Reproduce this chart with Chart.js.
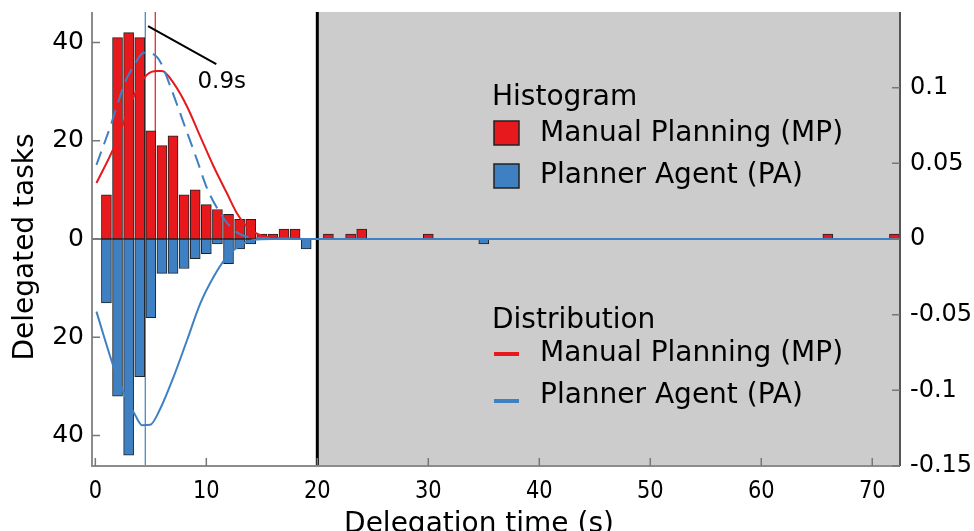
<!DOCTYPE html>
<html>
<head>
<meta charset="utf-8">
<script src="https://cdn.jsdelivr.net/npm/chart.js@4.4.0/dist/chart.umd.min.js"></script>
<style>
  html, body { margin: 0; padding: 0; background: #fff; }
  #wrap { width: 974px; height: 531px; position: relative; }
</style>
</head>
<body>
<div id="wrap"><canvas id="chart"></canvas></div>
<script>
// histogram bins (bin centre, seconds) and counts
const mpBins = [1, 2, 3, 4, 5, 6, 7, 8, 9, 10, 11, 12, 13, 14, 15, 16, 17, 18, 21, 23, 24, 30, 66, 72];
const mpCounts = [9, 41, 42, 41, 22, 19, 21, 9, 10, 7, 6, 5, 4, 4, 1, 1, 2, 2, 1, 1, 2, 1, 1, 1];
const paBins = [1, 2, 3, 4, 5, 6, 7, 8, 9, 10, 11, 12, 13, 14, 19, 35];
const paCounts = [13, 32, 44, 28, 16, 7, 7, 6, 4, 3, 1, 5, 2, 1, 2, 1];

// fitted distributions (right axis)
const mpDistX = [0.1, 1.65, 3.6, 4.66, 5.56, 6.0, 7.05, 8.26, 9.46, 10.66, 11.86, 12.76, 13.67, 14.86, 16.4, 20, 72.5];
const mpDistY = [0.037, 0.060, 0.0965, 0.1086, 0.111, 0.111, 0.103, 0.0876, 0.0677, 0.0479, 0.0302, 0.017, 0.0081, 0.0026, 0.0005, 0, 0];
const paMirrorX = [0.1, 1.35, 2.7, 3.6, 4.35, 5.25, 5.86, 6.76, 7.96, 9.16, 10.06, 11.26, 12.46, 13.96, 20];
const paMirrorY = [0.049, 0.0743, 0.104, 0.116, 0.123, 0.122, 0.117, 0.1008, 0.0766, 0.0523, 0.0336, 0.017, 0.006, 0.0011, 0];
const paDistX = [0.1, 1.65, 2.7, 3.6, 4.2, 4.95, 5.86, 7.05, 8.26, 9.46, 10.66, 11.86, 13.06, 14.26, 16, 72.5];
const paDistY = [-0.048, -0.0845, -0.104, -0.1165, -0.123, -0.1227, -0.112, -0.0911, -0.0669, -0.0426, -0.025, -0.0117, -0.004, -0.0007, 0, 0];

// medians and shaded region start
const paMedian = 4.5;
const mpMedian = 5.4;
const shadeStart = 20;

// ticks
const xTicks = [0, 10, 20, 30, 40, 50, 60, 70];
const yTicks = [-40, -20, 0, 20, 40];
const y2Ticks = [-0.15, -0.1, -0.05, 0, 0.05, 0.1];

const RED = '#e8191c';
const BLUE = '#3f80c2';
const FONT = '"DejaVu Sans", sans-serif';

const toXY = (xs, ys) => xs.map((x, i) => ({ x, y: ys[i] }));

const decorations = {
  id: 'decorations',
  beforeDatasetsDraw(chart) {
    const { ctx, chartArea: a, scales } = chart;
    const xs = scales.x, ys = scales.y;
    const y0 = ys.getPixelForValue(0);
    ctx.save();
    // shaded region
    const sx = xs.getPixelForValue(shadeStart);
    ctx.fillStyle = '#cccccc';
    ctx.fillRect(sx, a.top, a.right - sx, a.bottom - a.top);
    // zero line
    ctx.strokeStyle = '#000';
    ctx.lineWidth = 1;
    ctx.beginPath();
    ctx.moveTo(a.left, y0);
    ctx.lineTo(a.right, y0);
    ctx.stroke();
    // median lines
    const bx = xs.getPixelForValue(paMedian);
    ctx.strokeStyle = BLUE;
    ctx.lineWidth = 1.2;
    ctx.beginPath();
    ctx.moveTo(bx, a.top);
    ctx.lineTo(bx, a.bottom);
    ctx.stroke();
    const rx = xs.getPixelForValue(mpMedian);
    ctx.strokeStyle = RED;
    ctx.beginPath();
    ctx.moveTo(rx, a.top);
    ctx.lineTo(rx, y0);
    ctx.stroke();
    // boundary at 20 s
    ctx.strokeStyle = '#000';
    ctx.lineWidth = 3;
    ctx.beginPath();
    ctx.moveTo(sx, a.top);
    ctx.lineTo(sx, a.bottom);
    ctx.stroke();
    ctx.restore();
  },
  afterDatasetsDraw(chart) {
    const { ctx, chartArea: a, scales } = chart;
    const xs = scales.x, ys = scales.y, y2 = scales.y2;
    ctx.save();
    // spines
    ctx.lineWidth = 2;
    ctx.strokeStyle = '#8c8c8c';
    ctx.beginPath();
    ctx.moveTo(a.left, a.top);
    ctx.lineTo(a.left, a.bottom);
    ctx.lineTo(a.right, a.bottom);
    ctx.stroke();
    ctx.strokeStyle = '#555';
    ctx.beginPath();
    ctx.moveTo(a.right, a.top);
    ctx.lineTo(a.right, a.bottom);
    ctx.stroke();
    // inward tick marks
    ctx.lineWidth = 1.5;
    ctx.strokeStyle = '#777';
    ctx.beginPath();
    yTicks.forEach(v => {
      const p = ys.getPixelForValue(v);
      ctx.moveTo(a.left, p); ctx.lineTo(a.left + 8, p);
    });
    y2Ticks.forEach(v => {
      const p = y2.getPixelForValue(v);
      ctx.moveTo(a.right, p); ctx.lineTo(a.right - 8, p);
    });
    xTicks.forEach(v => {
      const p = xs.getPixelForValue(v);
      ctx.moveTo(p, a.bottom); ctx.lineTo(p, a.bottom - 8);
    });
    ctx.stroke();

    // x tick labels (narrow face, as in the source figure)
    ctx.fillStyle = '#000';
    ctx.font = '25px ' + FONT;
    ctx.textAlign = 'center';
    ctx.textBaseline = 'alphabetic';
    xTicks.forEach(v => {
      ctx.save();
      ctx.translate(xs.getPixelForValue(v), a.bottom + 32);
      ctx.scale(0.84, 1);
      ctx.fillText(String(v), 0, 0);
      ctx.restore();
    });

    // median gap annotation
    ctx.strokeStyle = '#000';
    ctx.lineWidth = 2;
    ctx.beginPath();
    ctx.moveTo(xs.getPixelForValue(4.75), ys.getPixelForValue(43.3));
    ctx.lineTo(xs.getPixelForValue(10.9), ys.getPixelForValue(35.6));
    ctx.stroke();
    ctx.font = '23px ' + FONT;
    ctx.textAlign = 'left';
    ctx.fillText((mpMedian - paMedian).toFixed(1) + 's', xs.getPixelForValue(9.2), ys.getPixelForValue(30.7));

    // legend
    const lx = a.left + 400;
    ctx.font = '28px ' + FONT;
    ctx.fillText('Histogram', lx, 105);
    ctx.fillText('Manual Planning (MP)', lx + 48, 141);
    ctx.fillText('Planner Agent (PA)', lx + 48, 183);
    ctx.fillText('Distribution', lx, 328);
    ctx.fillText('Manual Planning (MP)', lx + 48, 361);
    ctx.fillText('Planner Agent (PA)', lx + 48, 403);
    ctx.lineWidth = 1.5;
    ctx.strokeStyle = '#222';
    ctx.fillStyle = RED;
    ctx.fillRect(lx + 2, 121, 25, 24);
    ctx.strokeRect(lx + 2, 121, 25, 24);
    ctx.fillStyle = BLUE;
    ctx.fillRect(lx + 2, 164, 25, 24);
    ctx.strokeRect(lx + 2, 164, 25, 24);
    ctx.lineWidth = 4;
    ctx.strokeStyle = RED;
    ctx.beginPath(); ctx.moveTo(lx + 2, 354); ctx.lineTo(lx + 27, 354); ctx.stroke();
    ctx.strokeStyle = BLUE;
    ctx.beginPath(); ctx.moveTo(lx + 2, 401); ctx.lineTo(lx + 27, 401); ctx.stroke();

    // axis titles
    ctx.fillStyle = '#000';
    ctx.font = '28px ' + FONT;
    ctx.textAlign = 'center';
    ctx.fillText('Delegation time (s)', (a.left + a.right) / 2 - 17, 532);
    ctx.save();
    ctx.translate(33, (a.top + a.bottom) / 2 + 8);
    ctx.rotate(-Math.PI / 2);
    ctx.fillText('Delegated tasks', 0, 0);
    ctx.restore();
    ctx.restore();
  }
};

const noPad = s => { s.paddingTop = 0; s.paddingBottom = 0; s.paddingLeft = 0; s.paddingRight = 0; };

const ctx = document.getElementById('chart').getContext('2d');
new Chart(ctx, {
  data: {
    datasets: [
      {
        type: 'bar',
        label: 'Manual Planning (MP)',
        data: toXY(mpBins, mpCounts),
        backgroundColor: RED,
        borderColor: '#222',
        borderWidth: 1,
        borderSkipped: false,
        barThickness: 10,
        grouped: false,
        yAxisID: 'y',
        order: 3
      },
      {
        type: 'bar',
        label: 'Planner Agent (PA)',
        data: toXY(paBins, paCounts.map(v => -v)),
        backgroundColor: BLUE,
        borderColor: '#222',
        borderWidth: 1,
        borderSkipped: false,
        barThickness: 10,
        grouped: false,
        yAxisID: 'y',
        order: 3
      },
      {
        type: 'line',
        label: 'MP distribution',
        data: toXY(mpDistX, mpDistY),
        borderColor: RED,
        borderWidth: 2,
        pointRadius: 0,
        cubicInterpolationMode: 'monotone',
        yAxisID: 'y2',
        order: 2
      },
      {
        type: 'line',
        label: 'PA distribution (mirror)',
        data: toXY(paMirrorX, paMirrorY),
        borderColor: BLUE,
        borderWidth: 2,
        borderDash: [14, 8],
        pointRadius: 0,
        cubicInterpolationMode: 'monotone',
        yAxisID: 'y2',
        order: 1
      },
      {
        type: 'line',
        label: 'PA distribution',
        data: toXY(paDistX, paDistY),
        borderColor: BLUE,
        borderWidth: 2,
        pointRadius: 0,
        cubicInterpolationMode: 'monotone',
        yAxisID: 'y2',
        order: 1
      }
    ]
  },
  options: {
    responsive: true,
    maintainAspectRatio: false,
    animation: false,
    layout: { padding: { top: 12, left: 0, right: 0, bottom: 0 } },
    plugins: { legend: { display: false }, tooltip: { enabled: false } },
    scales: {
      x: {
        type: 'linear',
        offset: false,
        min: -0.3,
        max: 72.5,
        grid: { display: false, drawTicks: false, offset: false },
        border: { display: false },
        afterBuildTicks: s => { s.ticks = xTicks.map(value => ({ value })); },
        afterFit: s => { s.height = 65; noPad(s); },
        ticks: { display: false }
      },
      y: {
        type: 'linear',
        position: 'left',
        min: -46.2,
        max: 46.2,
        grid: { display: false, drawTicks: false },
        border: { display: false },
        afterBuildTicks: s => { s.ticks = yTicks.map(value => ({ value })); },
        afterFit: s => { s.width = 92; noPad(s); },
        ticks: { color: '#000', padding: 8, font: { family: FONT, size: 25 }, callback: v => Math.abs(v) }
      },
      y2: {
        type: 'linear',
        position: 'right',
        min: -0.15,
        max: 0.15,
        grid: { display: false, drawTicks: false },
        border: { display: false },
        afterBuildTicks: s => { s.ticks = y2Ticks.map(value => ({ value })); },
        afterFit: s => { s.width = 74; noPad(s); },
        ticks: { color: '#000', padding: 10, font: { family: FONT, size: 24 }, callback: v => String(v) }
      }
    }
  },
  plugins: [decorations]
});
</script>
</body>
</html>
